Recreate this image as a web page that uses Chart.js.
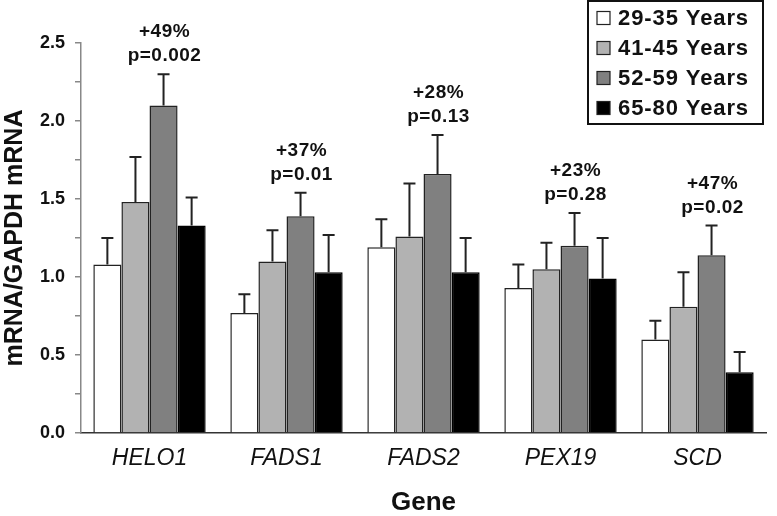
<!DOCTYPE html>
<html>
<head>
<meta charset="utf-8">
<script src="https://cdn.jsdelivr.net/npm/chart.js@4"></script>
<style>
  html, body { margin: 0; padding: 0; background: #fff; }
  #wrap { width: 777px; height: 516px; position: relative; }
</style>
</head>
<body>
<div id="wrap"><canvas id="canvas"></canvas></div>
<script>
// gene categories and age groups
const genes = ['HELO1', 'FADS1', 'FADS2', 'PEX19', 'SCD'];
const groups = ['29-35 Years', '41-45 Years', '52-59 Years', '65-80 Years'];
const colors = ['#ffffff', '#b2b2b2', '#808080', '#000000'];

// mean mRNA/GAPDH per group, one array per age group
const means29 = [1.08, 0.77, 1.19, 0.93, 0.60];
const means41 = [1.48, 1.10, 1.26, 1.05, 0.81];
const means52 = [2.10, 1.39, 1.66, 1.20, 1.14];
const means65 = [1.33, 1.03, 1.03, 0.99, 0.39];

// top of each error bar
const err29 = [1.25, 0.89, 1.37, 1.08, 0.72];
const err41 = [1.77, 1.30, 1.60, 1.22, 1.03];
const err52 = [2.30, 1.54, 1.91, 1.41, 1.33];
const err65 = [1.51, 1.27, 1.25, 1.25, 0.52];

// annotations above the 52-59 bars
const changeLabels = ['+49%', '+37%', '+28%', '+23%', '+47%'];
const pLabels = ['p=0.002', 'p=0.01', 'p=0.13', 'p=0.28', 'p=0.02'];

const means = [means29, means41, means52, means65];
const errs = [err29, err41, err52, err65];

const FONT = "'Liberation Sans', Arial, sans-serif";

// draws upward error bars, the % / p labels and the boxed legend
const extrasPlugin = {
  id: 'extras',
  afterDatasetsDraw(chart) {
    const ctx = chart.ctx;
    const y = chart.scales.y;
    ctx.save();
    ctx.strokeStyle = '#222';
    ctx.lineWidth = 2;
    errs.forEach((errArr, di) => {
      const meta = chart.getDatasetMeta(di);
      meta.data.forEach((bar, i) => {
        const top = y.getPixelForValue(errArr[i]);
        const base = y.getPixelForValue(means[di][i]);
        ctx.beginPath();
        ctx.moveTo(bar.x, base);
        ctx.lineTo(bar.x, top);
        ctx.moveTo(bar.x - 6, top);
        ctx.lineTo(bar.x + 6, top);
        ctx.stroke();
      });
    });

    // annotations
    ctx.fillStyle = '#111';
    ctx.font = 'bold 19px ' + FONT;
    ctx.letterSpacing = '0.5px';
    ctx.textAlign = 'center';
    ctx.textBaseline = 'middle';
    const meta2 = chart.getDatasetMeta(2);
    meta2.data.forEach((bar, i) => {
      const top = y.getPixelForValue(err52[i]);
      ctx.fillText(changeLabels[i], bar.x + 1, top - 42);
      ctx.fillText(pLabels[i], bar.x + 1, top - 18);
    });

    // legend box
    const lx = 588, ly = 1, lw = 175, lh = 123;
    ctx.fillStyle = '#fff';
    ctx.fillRect(lx, ly, lw, lh);
    ctx.strokeStyle = '#111';
    ctx.lineWidth = 2;
    ctx.strokeRect(lx, ly, lw, lh);
    ctx.font = 'bold 22px ' + FONT;
    ctx.letterSpacing = '0.9px';
    ctx.textAlign = 'left';
    groups.forEach((g, i) => {
      const cy = 18 + i * 30;
      ctx.fillStyle = colors[i];
      ctx.fillRect(597, cy - 6.5, 13, 13);
      ctx.lineWidth = 1.2;
      ctx.strokeStyle = '#222';
      ctx.strokeRect(597, cy - 6.5, 13, 13);
      ctx.fillStyle = '#111';
      ctx.fillText(g, 618, cy + 1);
    });
    ctx.restore();
  }
};

const datasets = groups.map((g, i) => ({
  label: g,
  data: means[i],
  backgroundColor: colors[i],
  borderColor: i === 3 ? '#000' : '#222',
  borderWidth: 1.5,
  borderSkipped: 'bottom',
  categoryPercentage: 0.82,
  barPercentage: 1.0
}));

new Chart(document.getElementById('canvas').getContext('2d'), {
  type: 'bar',
  data: { labels: genes, datasets: datasets },
  options: {
    responsive: true,
    maintainAspectRatio: false,
    animation: false,
    layout: { padding: { top: 43, right: 11, left: 0, bottom: 0 } },
    plugins: {
      legend: { display: false },
      tooltip: { enabled: false }
    },
    scales: {
      x: {
        grid: { display: false, drawTicks: false },
        border: { display: true, color: '#333', width: 1.5 },
        ticks: {
          color: '#111',
          padding: 12,
          font: { family: FONT, size: 23, style: 'italic' }
        },
        title: {
          display: true,
          text: 'Gene',
          color: '#111',
          padding: { top: 0, bottom: 0 },
          font: { family: FONT, size: 26, weight: 'bold', lineHeight: 1 }
        },
        afterFit(scale) { scale.height = 83; }
      },
      y: {
        min: 0,
        max: 2.5,
        grid: {
          drawOnChartArea: false,
          drawTicks: true,
          tickLength: 6,
          color: '#888',
          lineWidth: 1.5
        },
        border: { display: true, color: '#888', width: 1.5 },
        ticks: {
          stepSize: 0.25,
          autoSkip: false,
          padding: 10,
          color: '#111',
          font: { family: FONT, size: 18, weight: 'bold' },
          callback: (v) => (Math.abs(v * 2 - Math.round(v * 2)) < 1e-6 ? v.toFixed(1) : '')
        },
        title: {
          display: true,
          text: 'mRNA/GAPDH mRNA',
          color: '#111',
          padding: { top: 0, bottom: 0 },
          font: { family: FONT, size: 25, weight: 'bold' }
        },
        afterFit(scale) { scale.width = 81; }
      }
    }
  },
  plugins: [extrasPlugin]
});
</script>
</body>
</html>
